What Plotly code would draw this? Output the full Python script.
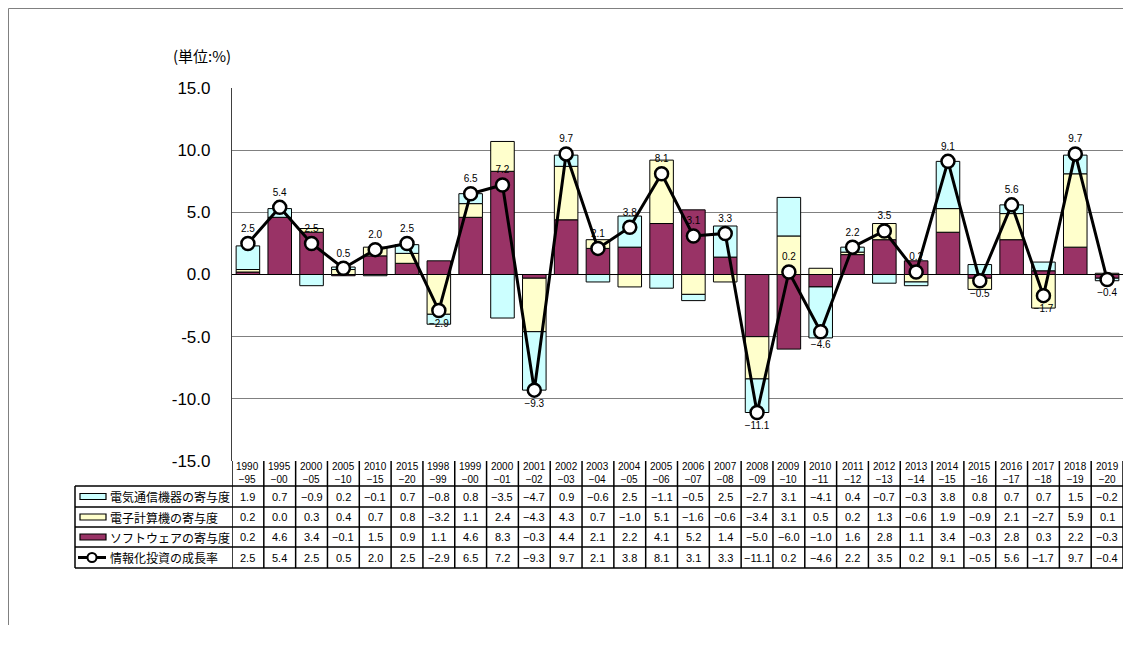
import plotly.graph_objects as go

periods = [
    "1990-95", "1995-00", "2000-05", "2005-10", "2010-15", "2015-20",
    "1998-99", "1999-00", "2000-01", "2001-02", "2002-03", "2003-04",
    "2004-05", "2005-06", "2006-07", "2007-08", "2008-09", "2009-10",
    "2010-11", "2011-12", "2012-13", "2013-14", "2014-15", "2015-16",
    "2016-17", "2017-18", "2018-19", "2019-20",
]
# two tick lines per column: "1990" over "−95"
period_top = [p.split("-")[0] for p in periods]
period_bottom = ["\u2212" + p.split("-")[1] for p in periods]

telecom = [1.9, 0.7, -0.9, 0.2, -0.1, 0.7, -0.8, 0.8, -3.5, -4.7, 0.9, -0.6, 2.5, -1.1,
           -0.5, 2.5, -2.7, 3.1, -4.1, 0.4, -0.7, -0.3, 3.8, 0.8, 0.7, 0.7, 1.5, -0.2]
computer = [0.2, 0.0, 0.3, 0.4, 0.7, 0.8, -3.2, 1.1, 2.4, -4.3, 4.3, 0.7, -1.0, 5.1,
            -1.6, -0.6, -3.4, 3.1, 0.5, 0.2, 1.3, -0.6, 1.9, -0.9, 2.1, -2.7, 5.9, 0.1]
software = [0.2, 4.6, 3.4, -0.1, 1.5, 0.9, 1.1, 4.6, 8.3, -0.3, 4.4, 2.1, 2.2, 4.1,
            5.2, 1.4, -5.0, -6.0, -1.0, 1.6, 2.8, 1.1, 3.4, -0.3, 2.8, 0.3, 2.2, -0.3]
growth = [2.5, 5.4, 2.5, 0.5, 2.0, 2.5, -2.9, 6.5, 7.2, -9.3, 9.7, 2.1, 3.8, 8.1,
          3.1, 3.3, -11.1, 0.2, -4.6, 2.2, 3.5, 0.2, 9.1, -0.5, 5.6, -1.7, 9.7, -0.4]

y_ticks = [-15, -10, -5, 0, 5, 10, 15]
y_tick_text = ["-15.0", "-10.0", "-5.0", "0.0", "5.0", "10.0", "15.0"]

names = ["電気通信機器の寄与度", "電子計算機の寄与度", "ソフトウェアの寄与度", "情報化投資の成長率"]
COLORS = {"telecom": "#CCFFFF", "computer": "#FFFFCC", "software": "#993366"}

FONT = "Liberation Sans, Arial, sans-serif"
JFONT = "Noto Sans CJK JP, sans-serif"

# the page body has an 8px margin, so the figure starts at (8, 8) in the window
OFF = 8
# plot area in window pixels: 232..1123 x 88..461 (right edge kept inside the visible page)
L, R, T, B = 232, 1123, 88, 461
W, H = R - OFF, 649 - 4 * OFF


def px_x(px):
    return (px - L) / (R - L)


def px_y(py):
    return (B - py) / (B - T)


def fmt(v):
    s = f"{abs(v):.1f}"
    return ("\u2212" + s) if v < 0 else s


n = len(periods)
xs = list(range(n))

fig = go.Figure()
# stacking order from zero outward: software, computer, telecom
for vals, key in [(software, "software"), (computer, "computer"), (telecom, "telecom")]:
    fig.add_trace(go.Bar(
        x=xs, y=vals,
        marker=dict(color=COLORS[key], line=dict(color="#000000", width=1)),
        width=0.74,
        showlegend=False,
        hoverinfo="skip",
    ))

fig.add_trace(go.Scatter(
    x=xs, y=growth,
    mode="lines+markers+text",
    line=dict(color="#000000", width=3),
    marker=dict(symbol="circle", size=13, color="#FFFFFF", line=dict(color="#000000", width=2.5)),
    text=[fmt(v) for v in growth],
    textposition=["top center" if v >= 0 else "bottom center" for v in growth],
    textfont=dict(family=FONT, size=10, color="#000000"),
    showlegend=False,
    cliponaxis=False,
))

shapes = []
annotations = []

# outer chart frame (left and top edge of the figure)
shapes.append(dict(type="line", xref="paper", yref="paper", x0=px_x(OFF + 0.5), x1=1,
                   y0=px_y(OFF + 0.5), y1=px_y(OFF + 0.5), line=dict(color="#808080", width=1)))
shapes.append(dict(type="line", xref="paper", yref="paper", x0=px_x(OFF + 0.5), x1=px_x(OFF + 0.5),
                   y0=px_y(OFF + 0.5), y1=px_y(OFF + H), line=dict(color="#808080", width=1)))

# data table
row_edges = [486, 507, 527, 547, 568]
tbl_left = 75
for i in range(n + 1):
    shapes.append(dict(type="line", xref="x", yref="paper", x0=i - 0.5, x1=i - 0.5,
                       y0=px_y(B), y1=px_y(row_edges[-1]), line=dict(color="#000000", width=1.5)))
shapes.append(dict(type="line", xref="paper", yref="paper", x0=px_x(tbl_left), x1=px_x(tbl_left),
                   y0=px_y(row_edges[0]), y1=px_y(row_edges[-1]), line=dict(color="#000000", width=1.5)))
for py in row_edges:
    shapes.append(dict(type="line", xref="paper", yref="paper", x0=px_x(tbl_left), x1=1,
                       y0=px_y(py), y1=px_y(py), line=dict(color="#000000", width=1.5)))

for i in range(n):
    annotations.append(dict(x=i, y=px_y(473.5), xref="x", yref="paper",
                            xanchor="center", yanchor="middle",
                            text=period_top[i] + "<br>" + period_bottom[i],
                            showarrow=False, font=dict(family=FONT, size=10, color="#000000")))

rows = [telecom, computer, software, growth]
for r, vals in enumerate(rows):
    cy = (row_edges[r] + row_edges[r + 1]) / 2
    for i, v in enumerate(vals):
        annotations.append(dict(x=i, y=px_y(cy), xref="x", yref="paper", text=fmt(v),
                                xanchor="center", yanchor="middle",
                                showarrow=False, font=dict(family=FONT, size=11, color="#000000")))
    # legend key
    if r < 3:
        col = [COLORS["telecom"], COLORS["computer"], COLORS["software"]][r]
        shapes.append(dict(type="rect", xref="paper", yref="paper",
                           x0=px_x(80), x1=px_x(106), y0=px_y(cy - 3), y1=px_y(cy + 3),
                           fillcolor=col, line=dict(color="#000000", width=1.2)))
    else:
        shapes.append(dict(type="line", xref="paper", yref="paper",
                           x0=px_x(78), x1=px_x(106), y0=px_y(cy), y1=px_y(cy),
                           line=dict(color="#000000", width=3)))
        shapes.append(dict(type="circle", xref="paper", yref="paper",
                           xsizemode="pixel", ysizemode="pixel",
                           xanchor=px_x(92), yanchor=px_y(cy),
                           x0=-4.5, x1=4.5, y0=-4.5, y1=4.5,
                           fillcolor="#FFFFFF", line=dict(color="#000000", width=2)))
    annotations.append(dict(x=px_x(108), y=px_y(cy), xref="paper", yref="paper",
                            text=names[r], xanchor="left", yanchor="middle", showarrow=False,
                            font=dict(family=JFONT, size=12, color="#000000")))

# unit label
annotations.append(dict(x=px_x(171), y=px_y(56), xref="paper", yref="paper",
                        text="(単位:%)", xanchor="left", yanchor="middle", showarrow=False,
                        font=dict(family=JFONT, size=15, color="#000000")))

fig.update_layout(
    width=W, height=H,
    margin=dict(l=L - OFF, r=0, t=T - OFF, b=H - (B - OFF)),
    paper_bgcolor="#FFFFFF",
    plot_bgcolor="#FFFFFF",
    barmode="relative",
    showlegend=False,
    shapes=shapes,
    annotations=annotations,
    xaxis=dict(range=[-0.5, n - 0.5], showticklabels=False, showgrid=False,
               zeroline=False, showline=False, fixedrange=True),
    yaxis=dict(range=[-15, 15], tickvals=y_ticks, ticktext=y_tick_text,
               tickfont=dict(family=FONT, size=17, color="#000000"),
               showgrid=True, gridcolor="#808080", gridwidth=1,
               zeroline=True, zerolinecolor="#000000", zerolinewidth=1.2,
               showline=True, linecolor="#404040", linewidth=1.2,
               ticks="", ticklabelstandoff=17, fixedrange=True),
)

fig.write_html("out.html")
